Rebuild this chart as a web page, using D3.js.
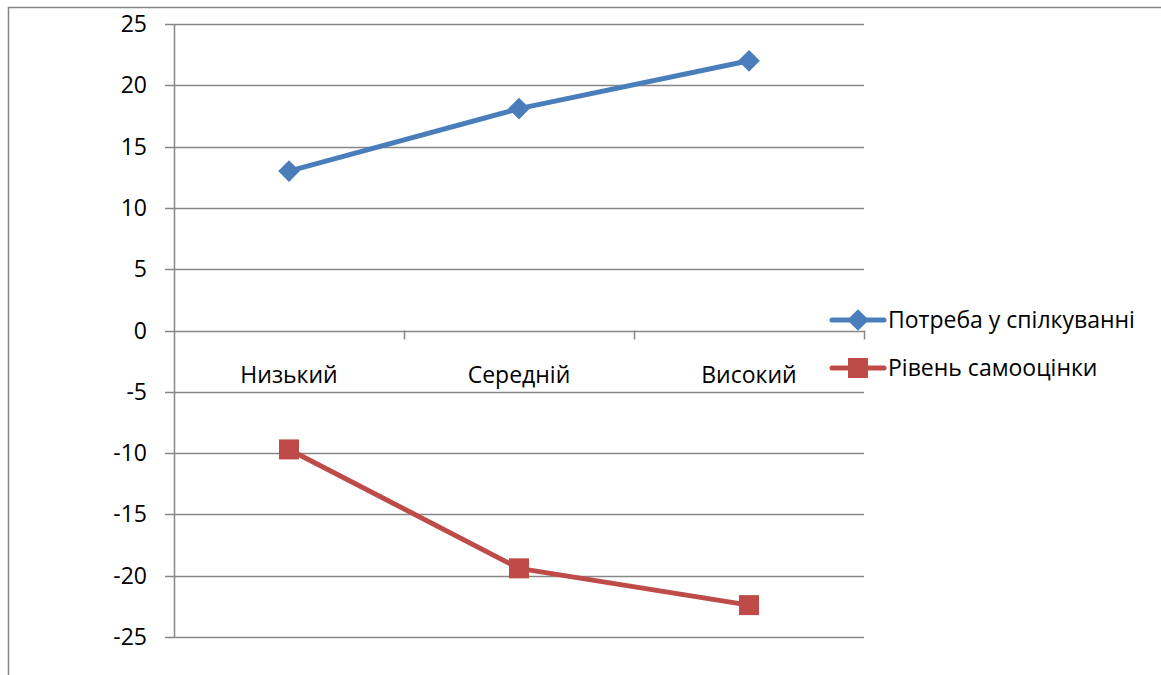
<!DOCTYPE html>
<html lang="uk">
<head>
  <meta charset="UTF-8">
  <title>Line chart</title>
  <script src="https://d3js.org/d3.v7.min.js"></script>
  <style>
    html, body { margin: 0; padding: 0; background: #fff; }
    svg { display: block; font-family: "Open Sans", Lato, sans-serif; }
    .grid line { stroke: #878787; stroke-width: 1.5px; }
    .lbl { font-size: 23px; fill: #000; }
  </style>
</head>
<body>
  <svg width="1161" height="675"></svg>
  <script>
    const categories = ["Низький", "Середній", "Високий"];
    const seriesNames = ["Потреба у спілкуванні", "Рівень самооцінки"];
    const needValues = [13, 18.1, 22];
    const selfValues = [-9.7, -19.4, -22.4];
    const yTicks = [25, 20, 15, 10, 5, 0, -5, -10, -15, -20, -25];
    const colors = ["#4a7ebb", "#be4b48"];

    const svg = d3.select("svg");
    const plotL = 174, plotR = 864, plotT = 24, plotB = 637;

    const x = d3.scaleBand().domain(categories).range([plotL, plotR]);
    const y = d3.scaleLinear().domain([-25, 25]).range([plotB, plotT]);
    const cx = d => x(d) + x.bandwidth() / 2;

    // outer frame (runs past the right and bottom edges)
    svg.append("rect")
      .attr("x", 8.5).attr("y", 7.5).attr("width", 1200).attr("height", 700)
      .attr("fill", "none").attr("stroke", "#878787").attr("stroke-width", 1.5);

    // gridlines + y tick marks
    const grid = svg.append("g").attr("class", "grid");
    grid.selectAll("line.h").data(yTicks).enter().append("line")
      .attr("x1", plotL - 9).attr("x2", plotR)
      .attr("y1", d => Math.round(y(d)) + 0.5).attr("y2", d => Math.round(y(d)) + 0.5);

    // y axis line
    grid.append("line").attr("x1", plotL + 0.5).attr("x2", plotL + 0.5).attr("y1", plotT).attr("y2", plotB);

    // category tick marks on the zero line
    const bounds = categories.map(c => x(c) + x.bandwidth());
    grid.selectAll("line.t").data(bounds).enter().append("line")
      .attr("x1", d => Math.round(d) + 0.5).attr("x2", d => Math.round(d) + 0.5)
      .attr("y1", y(0)).attr("y2", y(0) + 9);

    // y tick labels
    svg.append("g").selectAll("text").data(yTicks).enter().append("text")
      .attr("class", "lbl")
      .attr("x", plotL - 27).attr("y", d => y(d) + 8)
      .attr("text-anchor", "end")
      .text(d => d);

    // category labels
    svg.append("g").selectAll("text").data(categories).enter().append("text")
      .attr("class", "lbl")
      .attr("x", d => cx(d)).attr("y", y(0) + 52)
      .attr("text-anchor", "middle")
      .text(d => d);

    const line = d3.line().x(d => cx(d.c)).y(d => y(d.v));
    const series = [needValues, selfValues].map(vals => vals.map((v, i) => ({ c: categories[i], v })));

    const diamond = d3.symbol().type(d3.symbolDiamond2).size(300);
    const square = d3.symbol().type(d3.symbolSquare).size(400);
    const markers = [diamond, square];

    series.forEach((s, k) => {
      svg.append("path").datum(s)
        .attr("d", line)
        .attr("fill", "none").attr("stroke", colors[k]).attr("stroke-width", 5)
        .attr("stroke-linejoin", "round");
      svg.append("g").selectAll("path").data(s).enter().append("path")
        .attr("d", markers[k])
        .attr("transform", d => `translate(${cx(d.c)},${y(d.v)})`)
        .attr("fill", colors[k]);
    });

    // legend
    const legend = svg.append("g");
    seriesNames.forEach((name, k) => {
      const ly = 320 + k * 48;
      legend.append("line")
        .attr("x1", 832).attr("x2", 884).attr("y1", ly).attr("y2", ly)
        .attr("stroke", colors[k]).attr("stroke-width", 5).attr("stroke-linecap", "round");
      legend.append("path")
        .attr("d", markers[k])
        .attr("transform", `translate(858,${ly})`)
        .attr("fill", colors[k]);
      legend.append("text")
        .attr("class", "lbl")
        .attr("x", 888).attr("y", ly + 8)
        .text(name);
    });
  </script>
</body>
</html>
